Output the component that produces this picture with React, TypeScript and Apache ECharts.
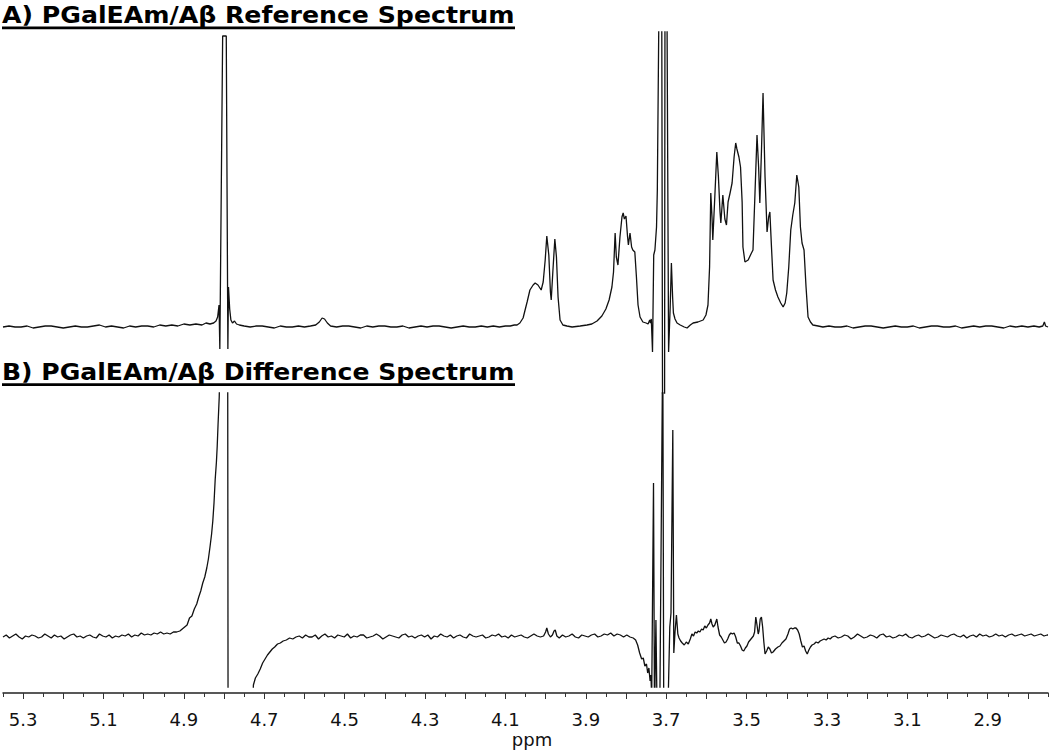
import React, { useEffect, useRef } from "react";
import * as echarts from "echarts";

const TITLE_A = "A) PGalEAm/Aβ Reference Spectrum";
const TITLE_B = "B) PGalEAm/Aβ Difference Spectrum";
const AXIS_NAME = "ppm";

const X_MIN = 2.75;
const X_MAX = 5.35;

const X_LABELS = [5.3, 5.1, 4.9, 4.7, 4.5, 4.3, 4.1, 3.9, 3.7, 3.5, 3.3, 3.1, 2.9];
const MAJOR_TICKS = [5.3, 5.2, 5.1, 5.0, 4.9, 4.8, 4.7, 4.6, 4.5, 4.4, 4.3, 4.2, 4.1, 4.0, 3.9, 3.8, 3.7, 3.6, 3.5, 3.4, 3.3, 3.2, 3.1, 3.0, 2.9, 2.8];
const MINOR_TICKS = [5.35, 5.25, 5.15, 5.05, 4.95, 4.85, 4.75, 4.65, 4.55, 4.45, 4.35, 4.25, 4.15, 4.05, 3.95, 3.85, 3.75, 3.65, 3.55, 3.45, 3.35, 3.25, 3.15, 3.05, 2.95, 2.85, 2.75];

// [ppm, intensity]
const REF_SPECTRUM: number[][] = [
  [5.35,0],[5.335,1],[5.32,0],[5.305,0],[5.29,1],[5.275,-1],[5.26,0],[5.245,1],[5.23,1],[5.215,0],[5.2,-1],[5.185,0],[5.17,1],[5.155,0],[5.14,0],[5.125,1],[5.11,2],[5.095,0],[5.08,1],[5.065,0],[5.05,-1],[5.035,1],[5.02,0],[5.005,1],[4.99,1],[4.975,0],[4.96,2],[4.945,1],[4.93,2],[4.915,1],[4.9,3],[4.885,2],[4.87,3],[4.855,2],[4.845,4],[4.835,3],[4.826,4],[4.82,6],[4.816,10],[4.8125,22],[4.8105,-22],[4.8035,291],[4.7945,291],[4.7905,-22],[4.789,40],[4.786,18],[4.783,7],[4.779,4],[4.774,6],[4.769,3],[4.762,2],[4.75,1],
  [4.735,0],[4.72,1],[4.705,1],[4.69,0],[4.675,-1],[4.66,1],[4.645,0],[4.63,0],[4.615,1],[4.6,0],[4.585,1],[4.572,2],[4.563,5],[4.556,9],[4.55,8],[4.543,4],[4.535,1],[4.52,0],[4.505,1],[4.49,1],[4.475,0],[4.46,-1],[4.445,1],[4.43,0],[4.415,1],[4.4,1],[4.385,0],[4.37,0],[4.355,1],[4.34,-1],[4.325,0],[4.31,1],[4.295,0],[4.28,1],[4.265,1],[4.25,0],[4.235,-1],[4.22,0],[4.205,1],[4.19,0],[4.175,0],[4.16,1],[4.145,0],[4.13,1],[4.115,0],[4.1,1],[4.088,1],[4.078,2],
  [4.071,2],[4.064,4],[4.056,9],[4.046,25],[4.039,37],[4.031,42],[4.026,44],[4.019,42],[4.011,37],[4.006,45],[4.001,67],[3.997,91],[3.992,72],[3.988,35],[3.986,27],[3.982,55],[3.977,88],[3.973,70],[3.969,30],[3.964,7],[3.957,2],[3.947,1],[3.934,0],[3.914,1],[3.897,2],[3.885,3],[3.872,6],[3.86,11],[3.85,18],[3.842,27],[3.835,40],[3.831,55],[3.827,94],[3.824,70],[3.82,62],[3.815,90],[3.81,110],[3.807,114],[3.804,108],[3.8,111],[3.796,90],[3.794,82],[3.79,94],[3.786,80],[3.783,77],[3.778,75],[3.774,50],[3.77,22],[3.765,10],[3.758,5],[3.75,4],[3.745,3],[3.741,7],[3.739,4],[3.737,8],[3.734,-25],[3.731,72],[3.728,77],[3.724,100],[3.722,137],[3.718,320],[3.711,320],[3.709,-90],[3.704,-90],[3.703,320],[3.698,320],[3.694,-25],[3.69,20],[3.687,64],[3.684,30],[3.682,14],[3.678,8],[3.673,4],[3.665,2],[3.655,0],[3.648,-1],[3.64,2],[3.633,4],[3.621,5],[3.608,7],[3.601,12],[3.596,22],[3.592,60],[3.589,134],[3.586,110],[3.584,87],[3.579,130],[3.574,175],[3.57,150],[3.566,115],[3.564,104],[3.559,132],[3.554,108],[3.55,102],[3.546,125],[3.541,134],[3.536,144],[3.531,170],[3.527,184],[3.524,178],[3.519,170],[3.515,160],[3.511,125],[3.509,80],[3.504,65],[3.496,67],[3.489,73],[3.484,77],[3.479,134],[3.474,192],[3.47,160],[3.467,124],[3.463,175],[3.459,234],[3.454,150],[3.449,95],[3.445,110],[3.442,115],[3.438,80],[3.434,47],[3.428,37],[3.422,30],[3.415,24],[3.409,20],[3.404,24],[3.4,34],[3.395,60],[3.39,97],[3.385,112],[3.38,124],[3.375,152],[3.37,140],[3.366,100],[3.362,84],[3.357,77],[3.352,40],[3.347,10],[3.341,5],[3.335,2],[3.322,1],[3.31,0],
  [3.295,1],[3.28,0],[3.265,0],[3.25,1],[3.235,-1],[3.22,0],[3.205,1],[3.19,1],[3.175,0],[3.16,-1],[3.145,0],[3.13,1],[3.115,0],[3.1,0],[3.085,1],[3.07,-1],[3.055,0],[3.04,1],[3.025,1],[3.01,0],[2.995,0],[2.98,1],[2.965,-1],[2.95,0],[2.935,1],[2.92,0],[2.905,1],[2.89,1],[2.875,0],[2.86,-1],[2.845,1],[2.83,0],[2.815,1],[2.8,0],[2.785,1],[2.772,0],[2.763,1],[2.759,5],[2.756,1],[2.75,0]
];

const DIFF_SPECTRUM: number[][] = [
  [5.35,0],[5.342,2],[5.334,-1],[5.326,1],[5.318,3],[5.31,0],[5.302,-2],[5.294,1],[5.286,0],[5.278,2],[5.27,1],[5.262,-1],[5.254,0],[5.246,3],[5.238,1],[5.23,-1],[5.222,2],[5.214,0],[5.206,1],[5.198,-2],[5.19,0],[5.182,2],[5.174,3],[5.166,0],[5.158,1],[5.15,-1],[5.142,1],[5.134,2],[5.126,0],[5.118,-1],[5.11,3],[5.102,1],[5.094,0],[5.086,2],[5.078,-1],[5.07,1],[5.062,0],[5.054,2],[5.046,1],[5.038,3],[5.03,0],[5.022,2],[5.014,1],[5.006,4],[4.998,2],[4.99,3],[4.982,2],[4.974,4],[4.966,3],[4.958,5],[4.95,3],[4.942,4],[4.934,3],[4.926,5],[4.918,5],[4.91,6],[4.904,8],[4.898,10],[4.892,12],[4.886,19],[4.88,21],[4.874,28],[4.868,33],[4.863,40],[4.858,46],[4.853,54],[4.848,60],[4.843,69],[4.839,78],[4.835,90],[4.831,103],[4.828,116],[4.825,134],[4.822,158],[4.819,175],[4.817,191],[4.815,212],[4.812,240],[4.809,300],[4.791,300],[4.79,-90],[4.73,-90],[4.727,-48],[4.722,-41],[4.716,-37],[4.71,-32],[4.704,-26],[4.698,-22],[4.692,-18],[4.686,-15],[4.68,-12],[4.674,-10],[4.667,-7],[4.66,-6],[4.653,-4],[4.645,-3],[4.637,-1],[4.629,-2],[4.621,0],
  [4.613,1],[4.605,-1],[4.597,2],[4.589,0],[4.581,0],[4.573,2],[4.565,-2],[4.557,1],[4.549,3],[4.541,0],[4.533,1],[4.525,-1],[4.517,2],[4.509,1],[4.501,0],[4.493,3],[4.485,-1],[4.477,1],[4.469,0],[4.461,2],[4.453,2],[4.445,-1],[4.437,0],[4.429,1],[4.421,3],[4.413,1],[4.405,-2],[4.397,0],[4.389,2],[4.381,1],[4.373,0],[4.365,-1],[4.357,2],[4.349,3],[4.341,0],[4.333,1],[4.325,-1],[4.317,1],[4.309,2],[4.301,0],[4.293,2],[4.285,-2],[4.277,1],[4.269,0],[4.261,3],[4.253,1],[4.245,0],[4.237,2],[4.229,-1],[4.221,1],[4.213,2],[4.205,0],[4.197,-1],[4.189,3],[4.181,1],[4.173,0],[4.165,1],[4.157,2],[4.149,-1],[4.141,0],[4.133,2],[4.125,1],[4.117,3],[4.109,0],[4.101,1],[4.093,-1],[4.085,2],[4.077,0],[4.069,1],[4.061,2],[4.053,0],[4.045,-1],[4.037,1],[4.029,3],[4.021,1],[4.013,0],[4.005,1],[4.0,5],[3.997,9],[3.993,3],[3.988,0],[3.983,2],[3.979,6],[3.976,7],[3.972,1],
  [3.966,-1],[3.958,2],[3.95,0],[3.942,1],[3.934,3],[3.926,0],[3.918,-1],[3.91,2],[3.902,1],[3.894,0],[3.886,2],[3.878,3],[3.87,0],[3.862,1],[3.854,3],[3.846,2],[3.838,4],[3.83,1],[3.822,3],[3.814,2],[3.806,0],[3.798,2],[3.79,0],[3.782,-1],[3.776,-3],[3.771,-8],[3.766,-16],[3.761,-22],[3.757,-21],[3.753,-29],[3.749,-27],[3.746,-36],[3.743,-31],[3.74,-44],[3.738,-38],[3.736,-60],
  [3.7315,154],[3.729,-80],[3.7255,17],[3.7225,-80],[3.716,-80],[3.7085,300],[3.706,-80],[3.696,-80],[3.691,10],[3.688,24],[3.6835,207],[3.681,-16],[3.678,5],[3.6745,22],[3.671,3],[3.668,-1],[3.664,-4],[3.66,-6],[3.655,-8],[3.65,-5],[3.645,-7],[3.64,-2],[3.636,3],[3.632,1],[3.628,5],[3.624,4],[3.62,6],[3.616,5],[3.612,8],[3.608,7],[3.604,11],[3.6,9],[3.596,12],[3.592,14],[3.589,18],[3.586,13],[3.583,10],[3.579,12],[3.574,18],[3.571,10],[3.567,2],[3.563,0],[3.559,-3],[3.555,-6],[3.551,-5],[3.547,-2],[3.543,2],[3.539,4],[3.535,3],[3.531,4],[3.527,0],[3.523,-6],[3.519,-6],[3.515,-9],[3.511,-13],[3.507,-14],[3.503,-11],[3.499,-9],[3.495,-5],[3.491,-3],[3.487,-1],[3.483,1],[3.48,5],[3.477,20],[3.474,12],[3.471,3],[3.469,6],[3.466,18],[3.463,20],[3.46,10],[3.457,-5],[3.454,-17],[3.45,-14],[3.446,-10],[3.442,-12],[3.438,-16],[3.434,-15],[3.428,-12],[3.422,-10],[3.417,-9],[3.412,-6],[3.407,-4],[3.402,-2],[3.397,3],[3.393,8],[3.389,9],[3.385,8],[3.381,9],[3.377,9],[3.373,7],[3.369,3],[3.365,-4],[3.361,-10],[3.357,-9],[3.353,-14],[3.349,-17],[3.345,-13],[3.341,-10],[3.337,-8],[3.332,-7],[3.327,-5],[3.322,-6],[3.317,-4],[3.312,-3],[3.307,-2],[3.302,-3],[3.297,-1],[3.292,-2],[3.287,0],
  [3.28,1],[3.272,-1],[3.264,0],[3.256,2],[3.248,1],[3.24,-2],[3.232,0],[3.224,3],[3.216,1],[3.208,-1],[3.2,0],[3.192,2],[3.184,1],[3.176,-1],[3.168,2],[3.16,3],[3.152,0],[3.144,1],[3.136,-1],[3.128,0],[3.12,2],[3.112,1],[3.104,3],[3.096,0],[3.088,-1],[3.08,1],[3.072,2],[3.064,0],[3.056,1],[3.048,3],[3.04,1],[3.032,-1],[3.024,0],[3.016,2],[3.008,1],[3.0,0],[2.992,2],[2.984,3],[2.976,1],[2.968,0],[2.96,2],[2.952,-1],[2.944,1],[2.936,2],[2.928,0],[2.92,3],[2.912,1],[2.904,2],[2.896,0],[2.888,1],[2.88,3],[2.872,1],[2.864,2],[2.856,0],[2.848,2],[2.84,3],[2.832,1],[2.824,2],[2.816,3],[2.808,1],[2.8,2],[2.792,3],[2.784,1],[2.776,2],[2.768,3],[2.76,1],[2.752,2],[2.75,2]
];

const TITLE_FONT_SIZE = 23;
const TITLE_FAMILY = '"DejaVu Sans", Verdana, sans-serif';
const TITLE_WIDTH = 513;

function measureText(text: string, font: string): number {
  const ctx = document.createElement("canvas").getContext("2d");
  if (!ctx) return text.length * 14;
  ctx.font = font;
  return ctx.measureText(text).width;
}

export default function App() {
  const ref = useRef<HTMLDivElement>(null);

  useEffect(() => {
    const el = ref.current;
    if (!el) return;
    const chart = echarts.init(el, null, { renderer: "svg" });
    const font = `bold ${TITLE_FONT_SIZE}px ${TITLE_FAMILY}`;
    const sA = TITLE_WIDTH / measureText(TITLE_A, font);
    const sB = TITLE_WIDTH / measureText(TITLE_B, font);

    const xCommon: any = { type: "value", min: X_MIN, max: X_MAX, inverse: true, splitLine: { show: false } };
    const lineStyle = { color: "#111", width: 1.3 };

    const option: any = {
      animation: false,
      backgroundColor: "#fff",
      grid: [
        { left: 3, right: 2, top: 32, bottom: 359 },
        { left: 3, right: 2, top: 393, bottom: 65 },
        { left: 3, right: 2, top: 688, bottom: 59 },
      ],
      xAxis: [
        { ...xCommon, gridIndex: 0, show: false },
        { ...xCommon, gridIndex: 1, show: false },
        {
          ...xCommon,
          gridIndex: 2,
          position: "bottom",
          axisLine: { show: true, onZero: false, lineStyle: { color: "#222", width: 1.5 } },
          axisTick: { show: true, length: 6, customValues: MAJOR_TICKS, lineStyle: { color: "#333", width: 1 } },
          axisLabel: {
            show: true,
            customValues: X_LABELS,
            formatter: (v: number) => Number(v).toFixed(1),
            margin: 17,
            fontSize: 18,
            fontFamily: '"DejaVu Sans", Verdana, sans-serif',
            color: "#111",
          },
        },
        {
          ...xCommon,
          gridIndex: 2,
          position: "bottom",
          axisLine: { show: false, onZero: false },
          axisTick: { show: true, length: 4, customValues: MINOR_TICKS, lineStyle: { color: "#333", width: 1 } },
          axisLabel: { show: false },
        },
      ],
      yAxis: [
        { type: "value", gridIndex: 0, min: -66, max: 295, show: false, splitLine: { show: false } },
        { type: "value", gridIndex: 1, min: -50, max: 244, show: false, splitLine: { show: false } },
        { type: "value", gridIndex: 2, min: 0, max: 1, show: false, splitLine: { show: false } },
      ],
      series: [
        {
          type: "line",
          name: "Reference",
          xAxisIndex: 0,
          yAxisIndex: 0,
          data: REF_SPECTRUM,
          symbol: "none",
          showSymbol: false,
          clip: true,
          silent: true,
          lineStyle,
        },
        {
          type: "line",
          name: "Difference",
          xAxisIndex: 1,
          yAxisIndex: 1,
          data: DIFF_SPECTRUM,
          symbol: "none",
          showSymbol: false,
          clip: true,
          silent: true,
          lineStyle,
        },
      ],
      graphic: [
        {
          type: "text",
          x: 2,
          y: 15,
          scaleX: sA,
          style: {
            text: TITLE_A,
            fontSize: TITLE_FONT_SIZE,
            fontWeight: "bold",
            fontFamily: TITLE_FAMILY,
            fill: "#000",
            textAlign: "left",
            textVerticalAlign: "middle",
            align: "left",
            verticalAlign: "middle",
          },
        },
        { type: "rect", shape: { x: 2, y: 26.5, width: TITLE_WIDTH, height: 2.8 }, style: { fill: "#000" } },
        {
          type: "text",
          x: 2,
          y: 372,
          scaleX: sB,
          style: {
            text: TITLE_B,
            fontSize: TITLE_FONT_SIZE,
            fontWeight: "bold",
            fontFamily: TITLE_FAMILY,
            fill: "#000",
            textAlign: "left",
            textVerticalAlign: "middle",
            align: "left",
            verticalAlign: "middle",
          },
        },
        { type: "rect", shape: { x: 2, y: 383.2, width: TITLE_WIDTH, height: 2.8 }, style: { fill: "#000" } },
        {
          type: "text",
          x: 532,
          y: 739,
          style: {
            text: AXIS_NAME,
            fontSize: 18,
            fontFamily: '"DejaVu Sans", Verdana, sans-serif',
            fill: "#111",
            textAlign: "center",
            textVerticalAlign: "middle",
            align: "center",
            verticalAlign: "middle",
          },
        },
      ],
    };

    chart.setOption(option);
    return () => chart.dispose();
  }, []);

  return (
    <div
      ref={ref}
      style={{ position: "absolute", left: 0, top: 0, width: 1050, height: 752, background: "#fff" }}
    />
  );
}
